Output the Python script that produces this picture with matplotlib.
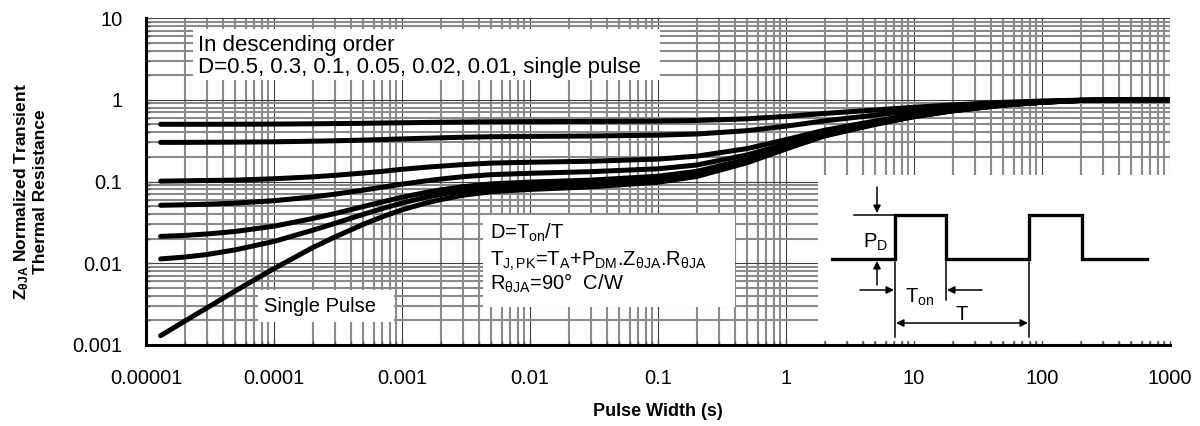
import matplotlib
matplotlib.use("Agg")
import matplotlib.pyplot as plt
from matplotlib.patches import Rectangle
from matplotlib.ticker import LogLocator, NullFormatter, FixedLocator

plt.rcParams['font.family'] = ['Liberation Sans', 'DejaVu Sans']
plt.rcParams['mathtext.fontset'] = 'custom'
plt.rcParams['mathtext.rm'] = 'Liberation Sans'
plt.rcParams['mathtext.it'] = 'Liberation Sans'
plt.rcParams['mathtext.bf'] = 'Liberation Sans:bold'

# Pulse width (s)
pulse_width = [1.3e-5, 2e-5, 3e-5, 5e-5, 1e-4, 2e-4, 3e-4, 5e-4, 7e-4, 1e-3,
               1.5e-3, 2e-3, 3e-3, 5e-3, 1e-2, 3e-2, 0.1, 0.2, 0.5, 1, 2, 5,
               10, 20, 50, 100, 200, 500, 1000]

# Normalized transient thermal resistance for each duty cycle
z_d050 = [0.501, 0.501, 0.501, 0.502, 0.504, 0.508, 0.511, 0.515, 0.519, 0.523,
          0.527, 0.53, 0.534, 0.538, 0.54, 0.543, 0.549, 0.558, 0.585, 0.625,
          0.68, 0.75, 0.81, 0.865, 0.93, 0.965, 0.99, 1.0, 1.0]
z_d030 = [0.301, 0.301, 0.302, 0.303, 0.306, 0.311, 0.315, 0.321, 0.326, 0.332,
          0.338, 0.342, 0.348, 0.353, 0.356, 0.36, 0.369, 0.381, 0.419, 0.475,
          0.552, 0.65, 0.734, 0.811, 0.902, 0.951, 0.986, 1.0, 1.0]
z_d010 = [0.101, 0.102, 0.103, 0.104, 0.108, 0.114, 0.119, 0.127, 0.133, 0.141,
          0.149, 0.154, 0.161, 0.168, 0.172, 0.177, 0.188, 0.204, 0.253, 0.325,
          0.424, 0.55, 0.658, 0.757, 0.874, 0.937, 0.982, 1.0, 1.0]
z_d005 = [0.0512, 0.0519, 0.0527, 0.0544, 0.0582, 0.0647, 0.070, 0.0785, 0.0852,
          0.0928, 0.1013, 0.107, 0.1146, 0.1213, 0.126, 0.132, 0.143, 0.159, 0.212,
          0.288, 0.392, 0.525, 0.639, 0.744, 0.867, 0.934, 0.981, 1.0, 1.0]
z_d002 = [0.0213, 0.0219, 0.0228, 0.0245, 0.0284, 0.0352, 0.0406, 0.0494, 0.0563,
          0.0641, 0.0729, 0.0788, 0.0866, 0.0935, 0.0984, 0.104, 0.116, 0.133, 0.187,
          0.265, 0.373, 0.51, 0.628, 0.735, 0.863, 0.931, 0.98, 1.0, 1.0]
z_d001 = [0.0113, 0.0119, 0.0128, 0.0146, 0.0185, 0.0253, 0.0308, 0.0397, 0.0466,
          0.0546, 0.0635, 0.0694, 0.0773, 0.0843, 0.0892, 0.0951, 0.107, 0.124, 0.178,
          0.258, 0.366, 0.505, 0.624, 0.733, 0.861, 0.931, 0.98, 1.0, 1.0]
z_single = [0.0013, 0.00195, 0.00285, 0.0046, 0.0086, 0.0155, 0.021, 0.030, 0.037,
            0.045, 0.054, 0.060, 0.068, 0.075, 0.080, 0.086, 0.098, 0.115, 0.17,
            0.25, 0.36, 0.50, 0.62, 0.73, 0.86, 0.93, 0.98, 1.0, 1.0]

curves = [z_d050, z_d030, z_d010, z_d005, z_d002, z_d001, z_single]

x_ticks = [1e-5, 1e-4, 1e-3, 1e-2, 1e-1, 1, 10, 100, 1000]
x_labels = ['0.00001', '0.0001', '0.001', '0.01', '0.1', '1', '10', '100', '1000']
y_ticks = [1e-3, 1e-2, 1e-1, 1, 10]
y_labels = ['0.001', '0.01', '0.1', '1', '10']

W, H = 1200, 426
fig = plt.figure(figsize=(W / 100, H / 100), dpi=100)
ax = fig.add_axes([146 / W, 1 - 345 / H, 1024 / W, 327 / H])
ax.set_xscale('log')
ax.set_yscale('log')
ax.set_xlim(1e-5, 1e3)
ax.set_ylim(1e-3, 10)

ax.xaxis.set_major_locator(FixedLocator(x_ticks))
ax.set_xticklabels(x_labels)
ax.yaxis.set_major_locator(FixedLocator(y_ticks))
ax.set_yticklabels(y_labels)
for axis in (ax.xaxis, ax.yaxis):
    axis.set_minor_locator(LogLocator(base=10, subs=range(2, 10), numticks=20))
    axis.set_minor_formatter(NullFormatter())

ax.set_axisbelow(True)
ax.grid(which='minor', color='#8a8a8a', lw=1.5)
ax.grid(which='major', color='#404040', lw=0.8)

ax.tick_params(which='both', direction='in', width=1, color='#555555')
ax.tick_params(which='major', length=4)
ax.tick_params(which='minor', length=3)
ax.tick_params(axis='x', pad=17, labelsize=14.5)
ax.tick_params(axis='y', pad=17, labelsize=14.5)

for side in ('top', 'right'):
    ax.spines[side].set_visible(False)
for side in ('left', 'bottom'):
    ax.spines[side].set_linewidth(2.2)
    ax.spines[side].set_color('black')
    ax.spines[side].set_zorder(6)

for z in curves:
    ax.plot(pulse_width, z, color='black', lw=3.6, solid_capstyle='round',
            solid_joinstyle='round', zorder=4)

# White panels over the grid
def panel(x0, y0, x1, y1):
    ax.add_patch(Rectangle((x0, y0), x1 - x0, y1 - y0, transform=ax.transAxes,
                           facecolor='white', edgecolor='none', zorder=3,
                           clip_on=False))

def ax_x(px):
    return (px - 146) / 1024

def ax_y(py):
    return 1 - (py - 18) / 327

panel(ax_x(193), ax_y(80), ax_x(660), ax_y(29))
panel(ax_x(483), ax_y(307), ax_x(735), ax_y(215))
panel(ax_x(258), ax_y(322), ax_x(394), ax_y(290))
panel(ax_x(818), ax_y(341), ax_x(1172), ax_y(175))

fs = 14.5
ax.text(ax_x(198), ax_y(45), 'In descending order', transform=ax.transAxes,
        fontsize=16, va='center', ha='left', zorder=5)
ax.text(ax_x(198), ax_y(67), 'D=0.5, 0.3, 0.1, 0.05, 0.02, 0.01, single pulse',
        transform=ax.transAxes, fontsize=16, va='center', ha='left', zorder=5)
ax.text(ax_x(264), ax_y(306), 'Single Pulse', transform=ax.transAxes,
        fontsize=fs, va='center', ha='left', zorder=5)
ax.text(ax_x(490), ax_y(233), r'D=T$_{\rm on}$/T', transform=ax.transAxes,
        fontsize=fs, va='center', ha='left', zorder=5)
ax.text(ax_x(490), ax_y(261),
        r'T$_{\rm J,PK}$=T$_{\rm A}$+P$_{\rm DM}$.Z$_{\rm \theta JA}$.R$_{\rm \theta JA}$',
        transform=ax.transAxes, fontsize=fs, va='center', ha='left', zorder=5)
ax.text(ax_x(490), ax_y(283), r'R$_{\rm \theta JA}$=90°  C/W',
        transform=ax.transAxes, fontsize=fs, va='center', ha='left', zorder=5)

ax.set_xlabel('Pulse Width (s)', fontsize=13, fontweight='bold', labelpad=11)
fig.text(22 / W, 1 - 192 / H, r'Z$_{\mathbf{\theta JA}}$ Normalized Transient',
         rotation=90, fontsize=12.5, fontweight='bold', ha='center', va='center')
fig.text(41 / W, 1 - 192 / H, 'Thermal Resistance', rotation=90,
         fontsize=12.5, fontweight='bold', ha='center', va='center')

# Pulse train sketch (pixel coordinates)
ov = fig.add_axes([0, 0, 1, 1], zorder=10)
ov.set_xlim(0, W)
ov.set_ylim(H, 0)
ov.axis('off')
ov.patch.set_alpha(0)

lo, hi = 259, 215
ov.plot([832, 895, 895, 946, 946, 1029, 1029, 1082, 1082, 1147],
        [lo, lo, hi, hi, lo, lo, hi, hi, lo, lo], color='black', lw=2.4,
        solid_joinstyle='miter')
ov.plot([854, 895], [hi, hi], color='black', lw=1.1)
ov.plot([895, 895], [lo + 3, 337], color='black', lw=1.1)
ov.plot([946, 946], [lo + 3, 300], color='black', lw=1.1)
ov.plot([1029, 1029], [lo + 3, 337], color='black', lw=1.1)

arrow = dict(arrowstyle='-|>', color='black', lw=1.1, mutation_scale=11,
             shrinkA=0, shrinkB=0)
ov.annotate('', xy=(877, hi - 2), xytext=(877, 187), arrowprops=arrow)
ov.annotate('', xy=(877, lo + 2), xytext=(877, 285), arrowprops=arrow)
ov.annotate('', xy=(894, 290), xytext=(860, 290), arrowprops=arrow)
ov.annotate('', xy=(947, 290), xytext=(982, 290), arrowprops=arrow)
ov.annotate('', xy=(1028, 323), xytext=(896, 323),
            arrowprops=dict(arrowstyle='<|-|>', color='black', lw=1.1,
                            mutation_scale=11, shrinkA=0, shrinkB=0))

ov.text(863, 242, r'P$_{\rm D}$', fontsize=fs, ha='left', va='center')
ov.text(905, 297, r'T$_{\rm on}$', fontsize=fs, ha='left', va='center')
ov.text(962, 314, 'T', fontsize=fs, ha='center', va='center')

fig.savefig('out.png', dpi=100, facecolor='white')
